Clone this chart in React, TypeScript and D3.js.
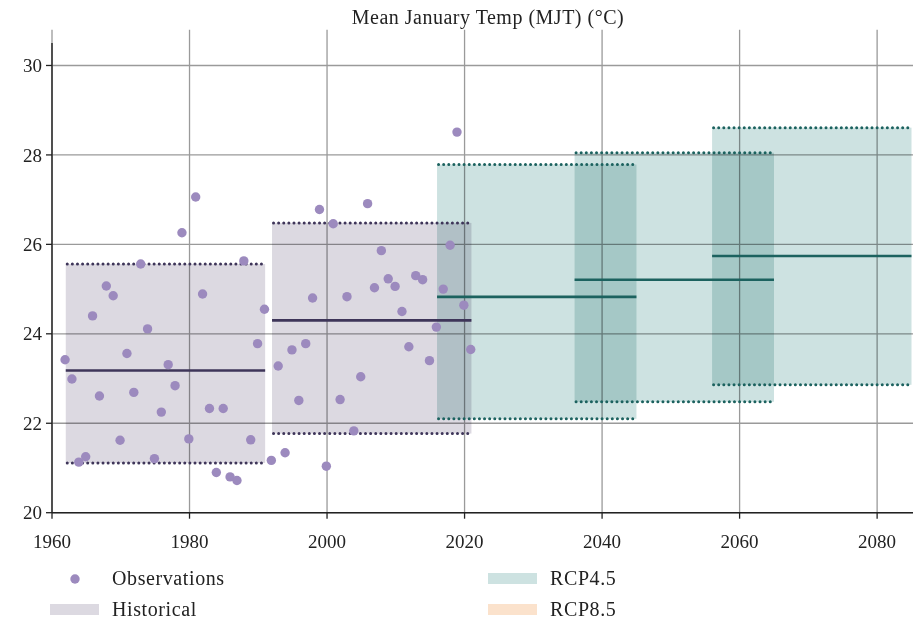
import React from "react";
import * as d3 from "d3";

const obsYears = [
  1962, 1963, 1964, 1965, 1966, 1967, 1968, 1969, 1970, 1971,
  1972, 1973, 1974, 1975, 1976, 1977, 1978, 1979, 1980, 1981,
  1982, 1983, 1984, 1985, 1986, 1987, 1988, 1989, 1990, 1991,
  1992, 1993, 1994, 1995, 1996, 1997, 1998, 1999, 2000, 2001,
  2002, 2003, 2004, 2005, 2006, 2007, 2008, 2009, 2010, 2011,
  2012, 2013, 2014, 2015, 2016, 2017, 2018, 2019, 2020, 2021,
];
const obsValues = [
  23.42, 22.99, 21.13, 21.25, 24.4, 22.61, 25.07, 24.85, 21.62, 23.56,
  22.69, 25.56, 24.11, 21.21, 22.25, 23.31, 22.84, 26.26, 21.65, 27.06,
  24.89, 22.33, 20.9, 22.33, 20.8, 20.72, 25.63, 21.63, 23.78, 24.55,
  21.17, 23.28, 21.34, 23.64, 22.51, 23.78, 24.8, 26.78, 21.04, 26.46,
  22.53, 24.83, 21.83, 23.04, 26.91, 25.03, 25.86, 25.23, 25.06, 24.5,
  23.71, 25.3, 25.21, 23.4, 24.15, 25.0, 25.98, 28.51, 24.64, 23.65,
];

const histStart = [1962, 1992];
const histEnd = [1991, 2021];
const histLow = [21.11, 21.77];
const histMedian = [23.18, 24.3];
const histHigh = [25.56, 26.48];

const rcpStart = [2016, 2036, 2056];
const rcpEnd = [2045, 2065, 2085];
const rcpLow = [22.1, 22.48, 22.86];
const rcpMedian = [24.825, 25.21, 25.74];
const rcpHigh = [27.785, 28.05, 28.61];

const xTicks = [1960, 1980, 2000, 2020, 2040, 2060, 2080];
const yTicks = [20, 22, 24, 26, 28, 30];
const title = "Mean January Temp (MJT) (°C)";
const legendLabels = ["Observations", "Historical", "RCP4.5", "RCP8.5"];

const W = 915;
const H = 620;
const FONT = "'Liberation Serif', 'DejaVu Serif', serif";

const C = {
  obs: "#9c8abe",
  histFill: "#dcd9e1",
  histLine: "#3e3559",
  rcpFill: "#cde2e1",
  rcpLine: "#1c625f",
  rcp85Fill: "#fbe2cc",
  grid: "#9a9a9a",
  axis: "#222",
  text: "#222",
};

export default function App() {
  const x = d3.scaleLinear().domain([1960, 2085]).range([52, 911.5]);
  const y = d3.scaleLinear().domain([20, 30.8]).range([512.7, 29.7]);
  const [x0, x1] = x.range();
  const [yb, yt] = y.range();

  const hist = histStart.map((s, i) => ({
    s, e: histEnd[i], lo: histLow[i], md: histMedian[i], hi: histHigh[i],
  }));
  const rcp = rcpStart.map((s, i) => ({
    s, e: rcpEnd[i], lo: rcpLow[i], md: rcpMedian[i], hi: rcpHigh[i],
  }));

  const dotted = "0.01,5.1";

  const renderBox = (b: any, i: number, fill: string, key: string) => (
    <rect
      key={key + i}
      x={x(b.s)}
      y={y(b.hi)}
      width={x(b.e) - x(b.s)}
      height={y(b.lo) - y(b.hi)}
      fill={fill}
      style={{ mixBlendMode: "multiply" }}
    />
  );
  const dotLine = (b: any, v: number, line: string) => (
    <line
      x1={x(b.s) + 1.5}
      x2={x(b.e)}
      y1={y(v)}
      y2={y(v)}
      stroke={line}
      strokeWidth={3}
      strokeLinecap="round"
      strokeDasharray={dotted}
    />
  );
  const renderLines = (b: any, i: number, line: string, key: string) => (
    <g key={key + "l" + i}>
      <line x1={x(b.s)} x2={x(b.e)} y1={y(b.md)} y2={y(b.md)} stroke={line} strokeWidth={2.6} />
      {dotLine(b, b.hi, line)}
      {dotLine(b, b.lo, line)}
    </g>
  );

  return (
    <svg
      width={W}
      height={H}
      style={{ position: "absolute", left: 0, top: 0, background: "#fff" }}
      fontFamily={FONT}
    >
      <rect x={0} y={0} width={W} height={H} fill="#fff" />
      {xTicks.map((t) => (
        <line key={"gx" + t} x1={x(t)} x2={x(t)} y1={yt} y2={yb} stroke={C.grid} strokeWidth={1.3} />
      ))}
      {yTicks.map((t) => (
        <line key={"gy" + t} x1={x0} x2={x1 + 1.5} y1={y(t)} y2={y(t)} stroke={C.grid} strokeWidth={1.3} />
      ))}
      {hist.map((b, i) => renderBox(b, i, C.histFill, "h"))}
      {rcp.map((b, i) => renderBox(b, i, C.rcpFill, "r"))}
      {hist.map((b, i) => renderLines(b, i, C.histLine, "h"))}
      {rcp.map((b, i) => renderLines(b, i, C.rcpLine, "r"))}
      {obsYears.map((yr, i) => (
        <circle key={"o" + yr} cx={x(yr) - 0.7} cy={y(obsValues[i])} r={4.7} fill={C.obs} />
      ))}
      <line x1={x0} x2={x0} y1={43} y2={yb} stroke={C.axis} strokeWidth={1.4} />
      <line x1={x0} x2={x1 + 1.5} y1={yb} y2={yb} stroke={C.axis} strokeWidth={1.4} />
      {yTicks.map((t) => (
        <g key={"yt" + t}>
          <line x1={x0 - 6} x2={x0} y1={y(t)} y2={y(t)} stroke={C.axis} strokeWidth={1.3} />
          <text x={x0 - 10} y={y(t)} dy="0.35em" textAnchor="end" fontSize={19} fill={C.text}>
            {t}
          </text>
        </g>
      ))}
      {xTicks.map((t) => (
        <g key={"xt" + t}>
          <line x1={x(t)} x2={x(t)} y1={yb} y2={yb + 6} stroke={C.axis} strokeWidth={1.3} />
          <text x={x(t)} y={yb + 35} textAnchor="middle" fontSize={19} fill={C.text}>
            {t}
          </text>
        </g>
      ))}
      <text x={488} y={24} textAnchor="middle" fontSize={20} letterSpacing={0.5} fill={C.text}>
        {title}
      </text>
      <circle cx={75} cy={579} r={4.7} fill={C.obs} />
      <text x={112} y={585} fontSize={20} letterSpacing={0.6} fill={C.text}>{legendLabels[0]}</text>
      <rect x={50} y={604} width={49} height={11} fill={C.histFill} />
      <text x={112} y={616} fontSize={20} letterSpacing={0.6} fill={C.text}>{legendLabels[1]}</text>
      <rect x={488} y={573} width={49} height={11} fill={C.rcpFill} />
      <text x={550} y={585} fontSize={20} letterSpacing={0.6} fill={C.text}>{legendLabels[2]}</text>
      <rect x={488} y={604} width={49} height={11} fill={C.rcp85Fill} />
      <text x={550} y={616} fontSize={20} letterSpacing={0.6} fill={C.text}>{legendLabels[3]}</text>
    </svg>
  );
}
